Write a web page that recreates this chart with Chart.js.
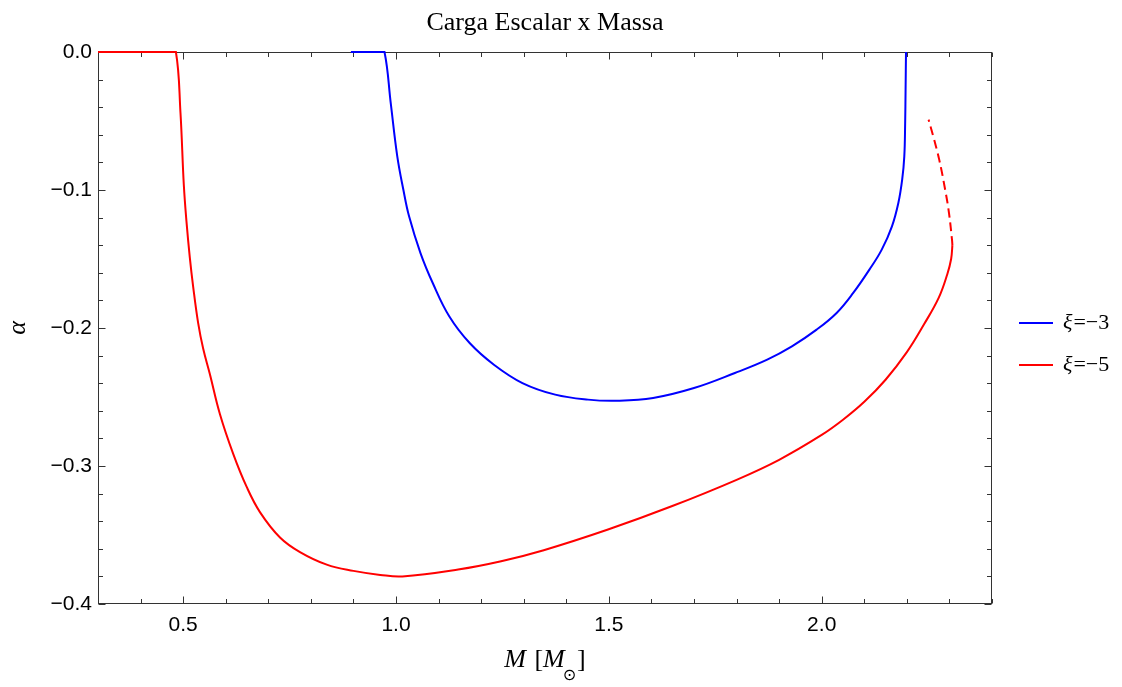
<!DOCTYPE html>
<html>
<head>
<meta charset="utf-8">
<script src="https://cdn.jsdelivr.net/npm/chart.js@4"></script>
<style>
  html, body { margin: 0; padding: 0; background: #fff; }
</style>
</head>
<body>
<canvas id="grafico" width="1122" height="687"></canvas>
<script>
const titulo = "Carga Escalar x Massa";
const rotuloY = "α";
const xTicks = [0.5, 1.0, 1.5, 2.0];
const yTicks = [0, -0.1, -0.2, -0.3, -0.4];
const xPassoMenor = 0.1;
const yPassoMenor = 0.02;

// xi = -3
const massaAzul = [0.894, 0.963, 0.973, 0.988, 1.003, 1.0173, 1.0307, 1.0575, 1.0863, 1.125, 1.173, 1.230, 1.297, 1.374,
  1.451, 1.518, 1.604, 1.700, 1.796, 1.872, 1.930, 1.988, 2.035, 2.074, 2.112, 2.141, 2.165, 2.180,
  2.189, 2.194, 2.196, 2.197, 2.198];
const alfaAzul = [0, 0, 0, -0.038, -0.0756, -0.0998, -0.1191, -0.1457, -0.1674, -0.1915, -0.2109, -0.2266, -0.2399, -0.2483,
  -0.2519, -0.2527, -0.2507, -0.2435, -0.2326, -0.2229, -0.2133, -0.2012, -0.1891, -0.1746, -0.1577, -0.1432, -0.1263, -0.1094,
  -0.0925, -0.0756, -0.0514, -0.0273, 0];

// xi = -5 (ramo continuo)
const massaVermelha = [0.3, 0.47, 0.483, 0.4937, 0.5016, 0.5078, 0.5157, 0.5235, 0.5353, 0.547, 0.5627, 0.5863,
  0.6176, 0.649, 0.6804, 0.7275, 0.7745, 0.8373, 0.900, 0.963, 1.015, 1.146, 1.247, 1.347, 1.498, 1.649,
  1.800, 1.900, 2.000, 2.050, 2.100, 2.150, 2.200, 2.240, 2.275, 2.295, 2.304, 2.307];
const alfaVermelha = [0, 0, 0, -0.0438, -0.0964, -0.1227, -0.149, -0.170, -0.1965, -0.2149, -0.2333, -0.2623,
  -0.2912, -0.315, -0.3334, -0.3518, -0.3624, -0.3715, -0.376, -0.3789, -0.380, -0.375, -0.369, -0.361, -0.346, -0.329,
  -0.310, -0.2955, -0.2775, -0.2665, -0.2535, -0.2375, -0.2175, -0.1975, -0.178, -0.161, -0.150, -0.140];

// xi = -5 (ramo tracejado)
const massaTracejada = [2.307, 2.306, 2.299, 2.290, 2.276, 2.262, 2.251];
const alfaTracejada = [-0.140, -0.136, -0.1167, -0.0998, -0.078, -0.0611, -0.049];

const pontos = (xs, ys) => xs.map((x, i) => ({ x: x, y: ys[i] }));
const menos = (v) => (v < -1e-9 ? "\u2212" : "") + Math.abs(v).toFixed(1);

// moldura com marcas dos quatro lados (estilo Mathematica)
const moldura = {
  id: "moldura",
  beforeDatasetsDraw(chart) {
    const ctx = chart.ctx;
    const a = chart.chartArea;
    const sx = chart.scales.x, sy = chart.scales.y;
    const L = Math.round(a.left) + 0.5, R = Math.round(a.right) - 0.5;
    const T = Math.round(a.top) + 0.5, B = Math.round(a.bottom) - 0.5;
    ctx.save();
    ctx.strokeStyle = "#333";
    ctx.lineWidth = 1;
    ctx.strokeRect(L, T, R - L, B - T);
    ctx.beginPath();
    for (let v = sx.min; v <= sx.max + 1e-9; v += xPassoMenor) {
      const maior = xTicks.some(t => Math.abs(t - v) < 1e-6);
      const len = maior ? 7 : 4.5;
      const px = Math.round(sx.getPixelForValue(v)) + 0.5;
      ctx.moveTo(px, B); ctx.lineTo(px, B - len);
      ctx.moveTo(px, T); ctx.lineTo(px, T + len);
    }
    for (let v = sy.min; v <= sy.max + 1e-9; v += yPassoMenor) {
      const maior = yTicks.some(t => Math.abs(t - v) < 1e-6);
      const len = maior ? 7 : 4.5;
      const py = Math.round(sy.getPixelForValue(v)) + 0.5;
      ctx.moveTo(L, py); ctx.lineTo(L + len, py);
      ctx.moveTo(R, py); ctx.lineTo(R - len, py);
    }
    ctx.stroke();
    ctx.restore();
  },
  afterDraw(chart) {
    const ctx = chart.ctx;
    const a = chart.chartArea;
    const cx = (a.left + a.right) / 2;
    ctx.save();
    ctx.fillStyle = "#000";
    // titulo
    ctx.font = "26px 'Liberation Serif'";
    ctx.textAlign = "center";
    ctx.textBaseline = "alphabetic";
    ctx.fillText(titulo, cx, 30);

    // rotulo do eixo x: M [M_sol]
    const partes = [
      { t: "M", f: "italic 26px 'Liberation Serif'", dy: 0, g: 2 },
      { t: " [", f: "26px 'Liberation Serif'", dy: 0, g: 0 },
      { t: "M", f: "italic 26px 'Liberation Serif'", dy: 0, g: -2 },
      { t: "\u2299", f: "16px 'DejaVu Sans'", dy: 13, g: 1 },
      { t: "]", f: "26px 'Liberation Serif'", dy: 0, g: 0 }
    ];
    let total = 0;
    partes.forEach(p => { ctx.font = p.f; p.w = ctx.measureText(p.t).width; total += p.w + p.g; });
    let x = cx - total / 2;
    ctx.textAlign = "left";
    partes.forEach(p => { ctx.font = p.f; ctx.fillText(p.t, x, 667 + p.dy); x += p.w + p.g; });

    // legenda
    let ly = 323;
    chart.data.datasets.forEach(ds => {
      if (!ds.label) return;
      ctx.strokeStyle = ds.borderColor;
      ctx.lineWidth = 2;
      ctx.beginPath();
      ctx.moveTo(1019, ly); ctx.lineTo(1053, ly);
      ctx.stroke();
      ctx.textBaseline = "middle";
      ctx.font = "italic 22px 'Liberation Serif'";
      ctx.fillText(ds.label[0], 1063, ly);
      const w = ctx.measureText(ds.label[0]).width;
      ctx.font = "22px 'Liberation Serif'";
      ctx.fillText(ds.label.slice(1), 1063 + w + 1, ly);
      ly += 42;
    });
    ctx.restore();
  }
};

new Chart(document.getElementById("grafico"), {
  type: "scatter",
  data: {
    datasets: [
      {
        label: "\u03BE=\u22123",
        data: pontos(massaAzul, alfaAzul),
        borderColor: "#0000ff",
        showLine: true, borderWidth: 2, pointRadius: 0, tension: 0.4, clip: 3
      },
      {
        label: "\u03BE=\u22125",
        data: pontos(massaVermelha, alfaVermelha),
        borderColor: "#ff0000",
        showLine: true, borderWidth: 2, pointRadius: 0, tension: 0.4, clip: 3
      },
      {
        label: "",
        data: pontos(massaTracejada, alfaTracejada),
        borderColor: "#ff0000",
        borderDash: [9, 5],
        showLine: true, borderWidth: 2, pointRadius: 0, tension: 0.4, clip: 3
      }
    ]
  },
  options: {
    responsive: false,
    animation: false,
    devicePixelRatio: 1,
    layout: { padding: { top: 52, right: 130, left: 0, bottom: 0 } },
    plugins: { legend: { display: false }, title: { display: false }, tooltip: { enabled: false } },
    scales: {
      x: {
        type: "linear", min: 0.3, max: 2.4,
        grid: { display: false, drawTicks: false },
        border: { display: false },
        afterBuildTicks: (s) => { s.ticks = xTicks.map(v => ({ value: v })); },
        afterFit: (s) => { s.height = 83; },
        ticks: {
          padding: 9, color: "#000",
          font: { family: "'Liberation Sans'", size: 21 },
          callback: (v) => v.toFixed(1)
        }
      },
      y: {
        type: "linear", min: -0.4, max: 0,
        grid: { display: false, drawTicks: false },
        border: { display: false },
        afterBuildTicks: (s) => { s.ticks = yTicks.map(v => ({ value: v })); },
        afterFit: (s) => { s.width = 98; },
        title: {
          display: true, text: rotuloY, color: "#000",
          font: { family: "'Liberation Serif'", style: "italic", size: 26 },
          padding: { top: 3, bottom: 0 }
        },
        ticks: {
          padding: 6, color: "#000",
          font: { family: "'Liberation Sans'", size: 21 },
          callback: (v) => menos(v)
        }
      }
    }
  },
  plugins: [moldura]
});
</script>
</body>
</html>
